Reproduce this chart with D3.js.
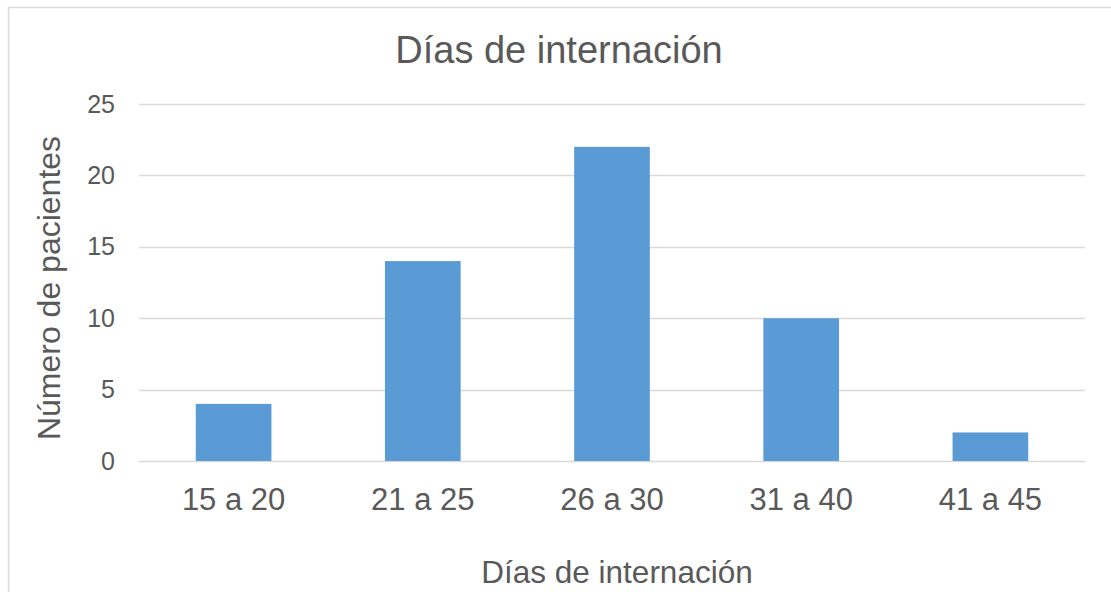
<!DOCTYPE html>
<html>
<head>
<meta charset="utf-8">
<script src="https://cdn.jsdelivr.net/npm/d3@7"></script>
<style>
  html, body { margin: 0; padding: 0; background: #fff; }
  svg { display: block; }
  text { font-family: "Liberation Sans", Arial, sans-serif; fill: #595959; }
</style>
</head>
<body>
<script>
const categories = ["15 a 20", "21 a 25", "26 a 30", "31 a 40", "41 a 45"];
const values = [4, 14, 22, 10, 2];
const yTicks = [0, 5, 10, 15, 20, 25];
const chartTitle = "Días de internación";
const xTitle = "Días de internación";
const yTitle = "Número de pacientes";

const W = 1111, H = 592;
const plot = { left: 139, right: 1085, top: 104, bottom: 461 };

const svg = d3.select("body").append("svg").attr("width", W).attr("height", H);

// outer border
svg.append("rect")
  .attr("x", 8.5).attr("y", 7.5)
  .attr("width", W + 10).attr("height", H + 10)
  .attr("fill", "none").attr("stroke", "#d9d9d9").attr("stroke-width", 1.5);

const x = d3.scaleBand().domain(categories).range([plot.left, plot.right]).paddingInner(0.6).paddingOuter(0.3);
const y = d3.scaleLinear().domain([0, 25]).range([plot.bottom, plot.top]);

// gridlines
svg.append("g").selectAll("line").data(yTicks).join("line")
  .attr("x1", plot.left).attr("x2", plot.right)
  .attr("y1", d => Math.round(y(d)) + 0.5).attr("y2", d => Math.round(y(d)) + 0.5)
  .attr("stroke", "#d9d9d9").attr("stroke-width", 1.5);

// bars
svg.append("g").selectAll("rect").data(values).join("rect")
  .attr("x", (d, i) => x(categories[i]))
  .attr("width", x.bandwidth())
  .attr("y", d => y(d))
  .attr("height", d => y(0) - y(d))
  .attr("fill", "#5b9bd5");

// y axis tick labels
const yAxis = d3.axisLeft(y).tickValues(yTicks).tickSize(0).tickPadding(24);
const gy = svg.append("g").attr("transform", `translate(${plot.left},0)`).call(yAxis);
gy.select(".domain").remove();
gy.selectAll("text").attr("font-size", 25).attr("fill", "#595959")
  .attr("font-family", "Liberation Sans, Arial, sans-serif");

// x axis labels
const xAxis = d3.axisBottom(x).tickSize(0).tickPadding(27);
const gx = svg.append("g").attr("transform", `translate(0,${plot.bottom})`).call(xAxis);
gx.select(".domain").remove();
gx.selectAll("text").attr("font-size", 31).attr("fill", "#595959")
  .attr("font-family", "Liberation Sans, Arial, sans-serif");

// title
svg.append("text").attr("x", 559).attr("y", 63).attr("text-anchor", "middle")
  .attr("font-size", 38).text(chartTitle);

// x axis title
svg.append("text").attr("x", 617).attr("y", 583).attr("text-anchor", "middle")
  .attr("font-size", 31.5).text(xTitle);

// y axis title
svg.append("text").attr("transform", `translate(60,288) rotate(-90)`)
  .attr("text-anchor", "middle").attr("font-size", 32).text(yTitle);
</script>
</body>
</html>
